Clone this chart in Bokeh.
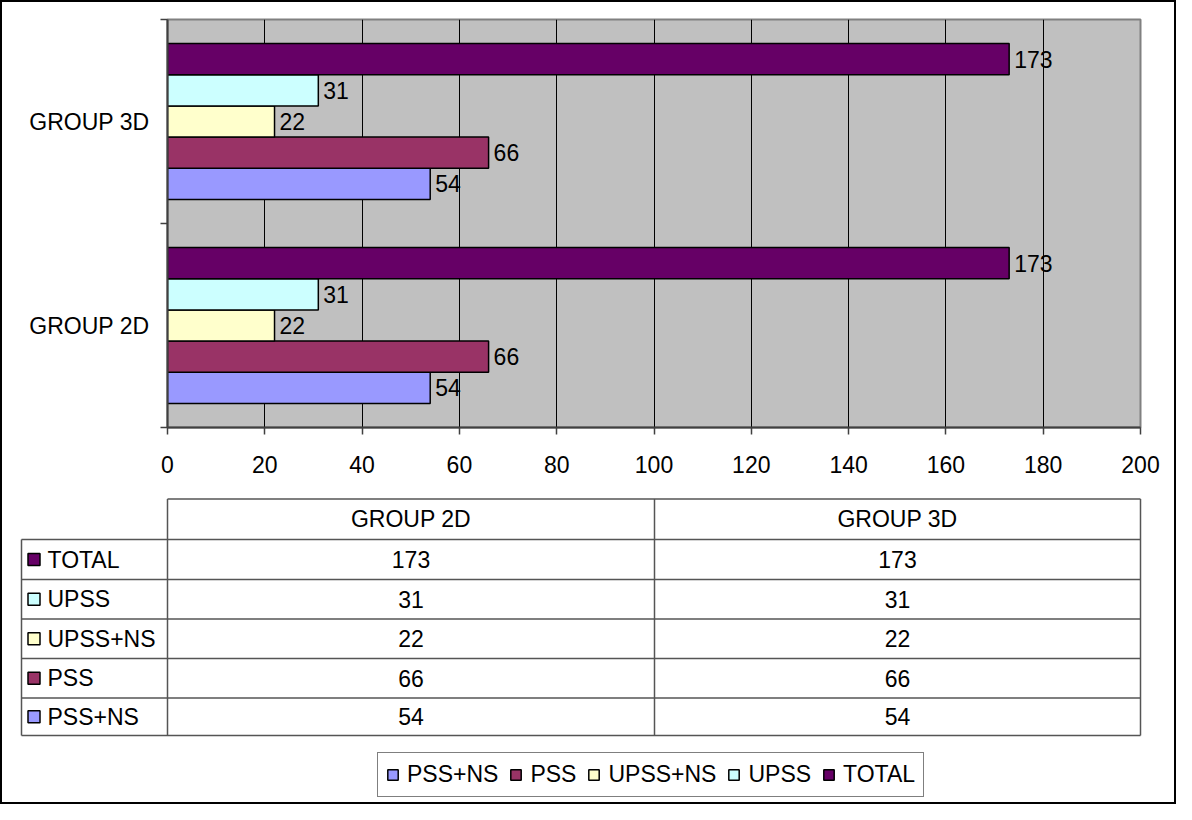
from bokeh.plotting import figure
from bokeh.models import Range1d, FixedTicker, ColumnDataSource, Legend, LegendItem
from bokeh.layouts import column
from bokeh.transform import dodge
from bokeh.core.properties import value
from bokeh.embed import file_html
from bokeh.resources import INLINE

# ---------------- data ----------------
groups = ["GROUP 2D", "GROUP 3D"]
series = ["PSS+NS", "PSS", "UPSS+NS", "UPSS", "TOTAL"]
colors = ["#9999FF", "#993366", "#FFFFCC", "#CCFFFF", "#660066"]
values_2d = [54, 66, 22, 31, 173]
values_3d = [54, 66, 22, 31, 173]
x_ticks = [0, 20, 40, 60, 80, 100, 120, 140, 160, 180, 200]

# ---------------- style ----------------
FONT = "Liberation Sans"
FS = "23px"
W = 1172
H1 = 485
H2 = 315
BAR_H = 0.1527

group_pos = [i + 0.5 for i in range(len(groups))]

p = figure(width=W, height=H1, x_range=Range1d(0, 200), y_range=Range1d(0, len(groups)),
           output_backend="svg", toolbar_location=None,
           min_border_left=165, min_border_right=34, min_border_top=17, min_border_bottom=60)
p.frame_align = False
p.background_fill_color = "#C0C0C0"
p.border_fill_color = "white"
p.outline_line_color = "#808080"
p.outline_line_width = 2

for i, s in enumerate(series):
    vals = [values_2d[i], values_3d[i]]
    src = ColumnDataSource(dict(y=group_pos, v=vals, lab=[str(v) for v in vals]))
    off = (i - (len(series) - 1) / 2) * BAR_H
    p.hbar(y=dodge("y", off), left=0, right="v", height=BAR_H, source=src,
           fill_color=colors[i], line_color="black", line_width=1.5)
    p.text(x="v", y=dodge("y", off), text="lab", source=src, x_offset=5,
           text_baseline="middle", text_align="left",
           text_font=value(FONT), text_font_size=value(FS), text_color="black")

# x axis
p.xaxis.ticker = FixedTicker(ticks=x_ticks)
p.xaxis.major_tick_in = 0
p.xaxis.major_tick_out = 7
p.xaxis.minor_tick_line_color = None
p.xaxis.major_label_standoff = 21
p.xaxis.major_label_text_font = FONT
p.xaxis.major_label_text_font_size = FS
p.xaxis.major_label_text_color = "black"
p.xaxis.axis_line_color = "#404040"
p.xaxis.axis_line_width = 2
p.xaxis.major_tick_line_color = "#404040"
p.xaxis.major_tick_line_width = 1.5

# y axis: ticks at category boundaries, labels at centres
p.yaxis.ticker = FixedTicker(ticks=group_pos, minor_ticks=list(range(len(groups) + 1)))
p.yaxis.major_label_overrides = {gp: g for gp, g in zip(group_pos, groups)}
p.yaxis.major_tick_line_color = None
p.yaxis.major_tick_in = 0
p.yaxis.major_tick_out = 0
p.yaxis.minor_tick_in = 0
p.yaxis.minor_tick_out = 7
p.yaxis.minor_tick_line_color = "#404040"
p.yaxis.minor_tick_line_width = 1.5
p.yaxis.major_label_standoff = 11
p.yaxis.major_label_text_font = FONT
p.yaxis.major_label_text_font_size = FS
p.yaxis.major_label_text_color = "black"
p.yaxis.axis_line_color = "#404040"
p.yaxis.axis_line_width = 2

p.xgrid.ticker = FixedTicker(ticks=x_ticks[1:-1])
p.xgrid.grid_line_color = "black"
p.xgrid.grid_line_width = 1
p.ygrid.visible = False

# ---------------- data table + legend ----------------
t = figure(width=W, height=H2, x_range=Range1d(0, W), y_range=Range1d(H2, 0),
           output_backend="svg", toolbar_location=None, min_border=0,
           x_axis_location=None, y_axis_location=None)
t.frame_align = False
t.grid.visible = False
t.outline_line_color = None
t.background_fill_color = "white"
t.border_fill_color = "white"

XL, XC1, XC2, XR = 19, 165, 652, 1138
row_y = [11.5, 52, 92, 131.5, 171, 210.5, 248]
LINE = "#555555"

# horizontal lines
hx0 = [XC1] + [XL] * 6
hx1 = [XR] * 7
t.segment(x0=hx0, y0=row_y, x1=hx1, y1=row_y, line_color=LINE, line_width=1.5)
# vertical lines
t.segment(x0=[XL, XC1, XC2, XR], y0=[row_y[1], row_y[0], row_y[0], row_y[0]],
          x1=[XL, XC1, XC2, XR], y1=[row_y[-1]] * 4, line_color=LINE, line_width=1.5)

col_cx = [(XC1 + XC2) / 2, (XC2 + XR) / 2]
t.text(x=col_cx, y=[(row_y[0] + row_y[1]) / 2] * 2, text=groups,
       text_align="center", text_baseline="middle",
       text_font=value(FONT), text_font_size=value(FS), text_color="black")

key_renderers = []
n = len(series)
for i, s in enumerate(series):
    r_idx = n - 1 - i  # TOTAL on top
    cy = (row_y[r_idx + 1] + row_y[r_idx + 2]) / 2
    rr = t.rect(x=[31.5], y=[cy], width=12, height=12, fill_color=colors[i],
                line_color="black", line_width=1.5)
    key_renderers.append(rr)
    t.text(x=[45], y=[cy], text=[s], text_align="left", text_baseline="middle",
           text_font=value(FONT), text_font_size=value(FS), text_color="black")
    vals = [values_2d[i], values_3d[i]]
    t.text(x=col_cx, y=[cy, cy], text=[str(v) for v in vals], text_align="center",
           text_baseline="middle", text_font=value(FONT), text_font_size=value(FS),
           text_color="black")

legend = Legend(items=[LegendItem(label=s, renderers=[r]) for s, r in zip(series, key_renderers)],
                location=(375, 5), orientation="horizontal", glyph_width=13, glyph_height=13,
                label_standoff=8, spacing=11, padding=8, margin=0,
                border_line_color="black", border_line_width=1.5,
                background_fill_color="white", background_fill_alpha=1,
                label_text_font=FONT, label_text_font_size=FS, label_text_color="black")
t.add_layout(legend)

layout = column(p, t, spacing=0, styles={"border": "2px solid black"})

with open("out.html", "w") as f:
    f.write(file_html(layout, INLINE))
